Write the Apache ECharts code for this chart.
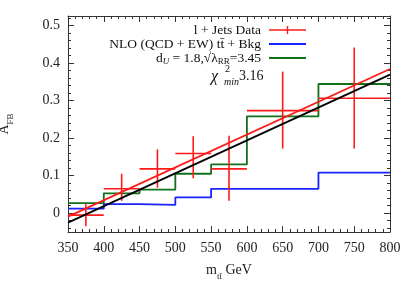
<!DOCTYPE html>
<html><head><meta charset="utf-8">
<script src="https://cdn.jsdelivr.net/npm/echarts@6/dist/echarts.min.js"></script>
<style>html,body{margin:0;padding:0;background:#fff}#c{width:415px;height:291px}</style>
</head><body><div id="c"></div>
<script>
// ---- data ----
const binEdges = [350, 400, 450, 500, 550, 600, 700, 800];
const dataCenters = [375, 425, 475, 525, 575, 650, 750];
const dataValues = [-0.005, 0.065, 0.118, 0.159, 0.118, 0.273, 0.306];
const dataErrLow = [0.030, 0.032, 0.050, 0.066, 0.085, 0.101, 0.134];
const dataErrHigh = [0.029, 0.040, 0.052, 0.046, 0.088, 0.104, 0.135];
const nloValues = [0.012, 0.024, 0.022, 0.042, 0.065, 0.065, 0.108];
const unparticleValues = [0.027, 0.053, 0.063, 0.105, 0.130, 0.258, 0.344];
const redFitX = [350, 800];
const redFitY = [-0.009, 0.384];
const blackFitX = [350, 800];
const blackFitY = [-0.025, 0.369];
const yTicks = [0, 0.1, 0.2, 0.3, 0.4, 0.5];

const FONT = '"Liberation Serif", "DejaVu Serif", serif';
const X_MIN = 350, X_MAX = 800, Y_MIN = -0.05, Y_MAX = 0.525;
const G = {left: 68, right: 25, top: 16, bottom: 59, w: 415, h: 291};
const PLOT_W = G.w - G.left - G.right, PLOT_H = G.h - G.top - G.bottom;

function stepPoints(vals) {
  const pts = vals.map((v, i) => [binEdges[i], v]);
  pts.push([binEdges[binEdges.length - 1], vals[vals.length - 1]]);
  return pts;
}
const errData = dataCenters.map((c, i) => [c, dataValues[i], binEdges[i], binEdges[i + 1],
  dataValues[i] - dataErrLow[i], dataValues[i] + dataErrHigh[i]]);

const chart = echarts.init(document.getElementById('c'), null, {renderer: 'canvas'});

// axis that only draws ticks (no labels)
function tickAxis(position, isX, showLine, inside, offset) {
  const a = {
    type: 'value', position: position, offset: offset || 0,
    axisLine: {show: showLine, onZero: false, lineStyle: {color: '#333', width: 1}},
    axisTick: {show: true, inside: inside, length: 6, lineStyle: {color: '#333', width: 1}},
    minorTick: {show: true, splitNumber: 5, length: 3, lineStyle: {color: '#333', width: 1}},
    axisLabel: {show: false},
    splitLine: {show: false}, minorSplitLine: {show: false}
  };
  if (isX) { a.min = X_MIN; a.max = X_MAX; a.interval = 50; }
  else { a.min = Y_MIN; a.max = Y_MAX; a.splitNumber = 5; }
  return a;
}

const legendNames = {
  data: '{t|l + Jets Data}',
  nlo: '{t|NLO (QCD + EW) tt\u0304 + Bkg}',
  du: '{t|d}{si|U}{t| = 1.8,\u221A\u03BB}{s|RR}{t|=3.45}'
};
const hidden = {color: 'rgba(0,0,0,0)', borderWidth: 0, opacity: 0};

chart.setOption({
  animation: false,
  backgroundColor: '#fff',
  grid: {left: G.left, right: G.right, top: G.top, bottom: G.bottom, containLabel: false, outerBoundsMode: 'none'},
  xAxis: [
    {
      type: 'value', min: X_MIN, max: X_MAX, interval: 50, position: 'bottom',
      axisLine: {show: true, onZero: false, lineStyle: {color: '#333', width: 1}},
      axisTick: {show: false}, minorTick: {show: false},
      splitLine: {show: false}, minorSplitLine: {show: false},
      axisLabel: {fontFamily: FONT, fontSize: 14, color: '#222', margin: 9},
      name: '{a|m}{s|tt\u0304}{a| GeV}', nameLocation: 'middle', nameGap: 27,
      nameTextStyle: {fontFamily: FONT, fontSize: 14, color: '#222',
        rich: {a: {fontFamily: FONT, fontSize: 14, color: '#222'},
               s: {fontFamily: FONT, fontSize: 9, color: '#222', verticalAlign: 'bottom', lineHeight: 22}}}
    },
    tickAxis('top', true, false, false, -PLOT_H),
    tickAxis('top', true, true, true, 0)
  ],
  yAxis: [
    {
      type: 'value', min: Y_MIN, max: Y_MAX, splitNumber: 5, position: 'left',
      axisLine: {show: true, onZero: false, lineStyle: {color: '#333', width: 1}},
      axisTick: {show: false}, minorTick: {show: false},
      splitLine: {show: false}, minorSplitLine: {show: false},
      axisLabel: {fontFamily: FONT, fontSize: 14, color: '#222', margin: 8,
        showMinLabel: false, showMaxLabel: false,
        formatter: v => {
          const hit = yTicks.find(t => Math.abs(t - v) < 1e-6);
          return hit === undefined ? '' : (hit === 0 ? '0' : hit.toFixed(1));
        }},
      name: '{a|A}{s|FB}', nameLocation: 'middle', nameRotate: 90, nameGap: 53,
      nameTextStyle: {fontFamily: FONT, fontSize: 14, color: '#222',
        rich: {a: {fontFamily: FONT, fontSize: 14, color: '#222'},
               s: {fontFamily: FONT, fontSize: 9, color: '#222', verticalAlign: 'bottom', lineHeight: 22}}}
    },
    tickAxis('right', false, false, false, -PLOT_W),
    tickAxis('right', false, true, true, 0)
  ],
  legend: {
    orient: 'vertical', right: 103, top: 18, align: 'right',
    itemWidth: 37, itemHeight: 8, itemGap: 0,
    data: [
      {name: 'data', icon: 'path://M0,3.2H37V4.8H0Z M17.8,0H19.2V8H17.8Z'},
      {name: 'nlo', itemStyle: hidden},
      {name: 'du', itemStyle: hidden}
    ],
    formatter: n => legendNames[n],
    textStyle: {fontFamily: FONT, fontSize: 13, color: '#111', padding: [0, 3, 0, 0],
      rich: {
        t: {fontFamily: FONT, fontSize: 13.5, color: '#111', lineHeight: 14},
        s: {fontFamily: FONT, fontSize: 9, color: '#111', verticalAlign: 'bottom', lineHeight: 17},
        si: {fontFamily: FONT, fontSize: 9, fontStyle: 'italic', color: '#111', verticalAlign: 'bottom', lineHeight: 17}
      }}
  },
  graphic: [
    {type: 'text', x: 211, y: 77, z: 100, style: {text: '\u03C7', font: 'italic 16px ' + FONT, fill: '#111', verticalAlign: 'middle'}},
    {type: 'text', x: 225, y: 69, z: 100, style: {text: '2', font: '10px ' + FONT, fill: '#111', verticalAlign: 'middle'}},
    {type: 'text', x: 224, y: 82, z: 100, style: {text: 'min', font: 'italic 10px ' + FONT, fill: '#111', verticalAlign: 'middle'}},
    {type: 'text', x: 239, y: 76, z: 100, style: {text: '3.16', font: '14px ' + FONT, fill: '#111', verticalAlign: 'middle'}}
  ],
  series: [
    {name: 'nlo', type: 'line', step: 'end', data: stepPoints(nloValues), symbol: 'none',
     color: '#1a22ff', lineStyle: {color: '#1a22ff', width: 1.8}, z: 2},
    {name: 'du', type: 'line', step: 'end', data: stepPoints(unparticleValues), symbol: 'none',
     color: '#11701a', lineStyle: {color: '#11701a', width: 1.8}, z: 3},
    {name: 'data', type: 'custom', data: errData, encode: {x: 0, y: 1},
     itemStyle: {color: '#ff1a1a'}, z: 4,
     renderItem: function (params, api) {
       const x = api.value(0), y = api.value(1);
       const pL = api.coord([api.value(2), y]), pR = api.coord([api.value(3), y]);
       const pT = api.coord([x, api.value(5)]), pB = api.coord([x, api.value(4)]);
       return {type: 'group', children: [
         {type: 'line', shape: {x1: pL[0], y1: pL[1], x2: pR[0], y2: pR[1]}, style: {stroke: '#ff1a1a', lineWidth: 1.6}},
         {type: 'line', shape: {x1: pT[0], y1: pT[1], x2: pB[0], y2: pB[1]}, style: {stroke: '#ff1a1a', lineWidth: 1.6}}
       ]};
     }},
    {name: 'fitRed', type: 'line', data: redFitX.map((x, i) => [x, redFitY[i]]), symbol: 'none',
     lineStyle: {color: '#ff1a1a', width: 1.8}, z: 5},
    {name: 'fitBlack', type: 'line', data: blackFitX.map((x, i) => [x, blackFitY[i]]), symbol: 'none',
     lineStyle: {color: '#000', width: 1.8}, z: 6}
  ]
});
</script>
</body></html>
